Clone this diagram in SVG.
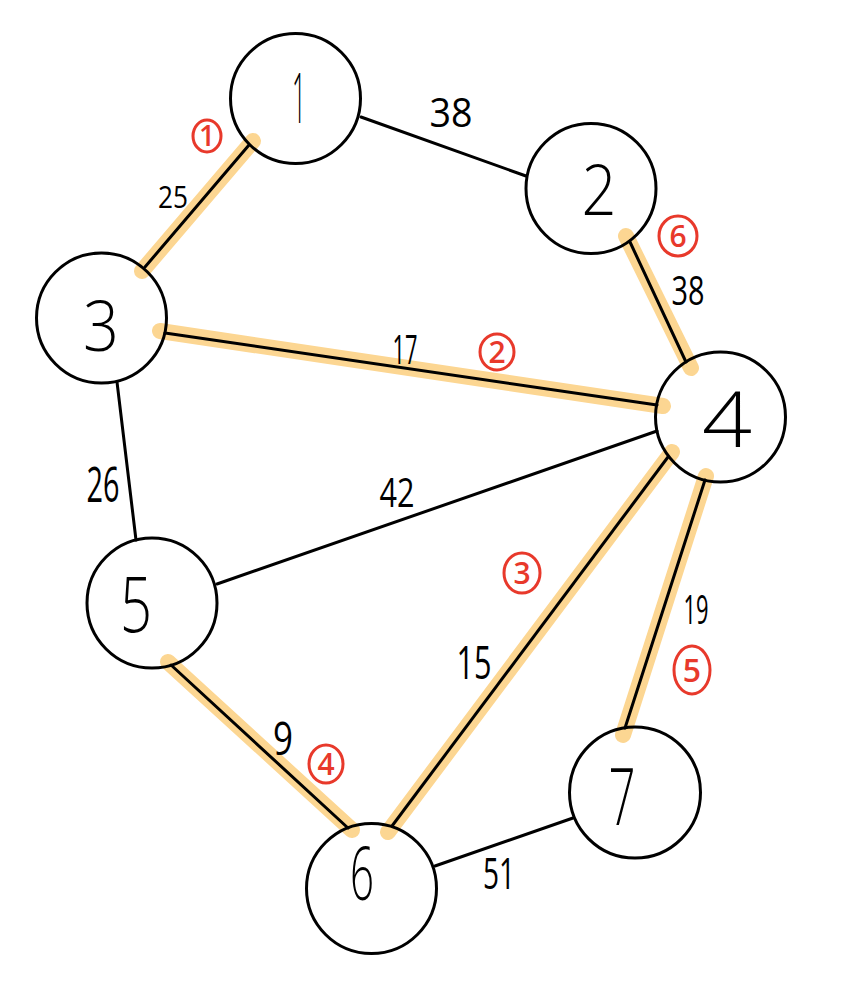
<svg xmlns="http://www.w3.org/2000/svg" width="842" height="982" viewBox="0 0 842 982">
<style>
.hl{stroke:#FCD692;stroke-width:16;stroke-linecap:round;fill:none}
.e{stroke:#000;stroke-width:3;fill:none;stroke-linecap:round}
.n{fill:none;stroke:#000;stroke-width:3}
.nt{font-family:"Open Sans","Liberation Sans",sans-serif;font-weight:350;font-size:70px;fill:#000;text-anchor:middle}
.w{font-family:"Open Sans","Liberation Sans",sans-serif;font-weight:400;font-size:40px;fill:#000;text-anchor:middle}
.rc{fill:none;stroke:#E8392B;stroke-width:3}
.rt{font-family:"Open Sans","Liberation Sans",sans-serif;font-weight:600;font-size:30px;fill:#E8392B;text-anchor:middle}
</style>
<rect width="842" height="982" fill="#fff"/>
<g id="connectors">
  <g id="highlights">
    <line class="hl" x1="253" y1="141" x2="142" y2="271"/>
    <line class="hl" x1="160" y1="331" x2="663" y2="406"/>
    <line class="hl" x1="626" y1="236" x2="691" y2="368"/>
    <line class="hl" x1="672" y1="452" x2="388" y2="832"/>
    <line class="hl" x1="706" y1="476" x2="623" y2="735"/>
    <line class="hl" x1="168" y1="662" x2="352" y2="830"/>
  </g>
  <line class="e" x1="361" y1="117" x2="526" y2="176"/>
  <line class="e" x1="249" y1="145" x2="145" y2="267"/>
  <line class="e" x1="165" y1="333" x2="657" y2="405"/>
  <line class="e" x1="630" y1="242" x2="686" y2="362"/>
  <line class="e" x1="117" y1="382" x2="136" y2="540"/>
  <line class="e" x1="217" y1="584" x2="657" y2="431"/>
  <line class="e" x1="668" y1="457" x2="392" y2="826"/>
  <line class="e" x1="705" y1="480" x2="625" y2="728"/>
  <line class="e" x1="171" y1="665" x2="348" y2="828"/>
  <line class="e" x1="435" y1="866" x2="573" y2="818"/>
  <g id="weights">
    <text class="w" x="451" y="127" textLength="43" lengthAdjust="spacingAndGlyphs">38</text>
    <text class="w" x="173" y="208" textLength="30" lengthAdjust="spacingAndGlyphs" style="font-size:31px">25</text>
    <text class="w" x="688" y="305" textLength="33" lengthAdjust="spacingAndGlyphs">38</text>
    <text class="w" x="405" y="364" textLength="25" lengthAdjust="spacingAndGlyphs">17</text>
    <text class="w" x="103" y="502" textLength="33" lengthAdjust="spacingAndGlyphs" style="font-size:50px">26</text>
    <text class="w" x="397" y="507" textLength="35" lengthAdjust="spacingAndGlyphs">42</text>
    <text class="w" x="474" y="679" textLength="35" lengthAdjust="spacingAndGlyphs" style="font-size:46px">15</text>
    <text class="w" x="696" y="624" textLength="25" lengthAdjust="spacingAndGlyphs">19</text>
    <text class="w" x="283" y="755" textLength="20" lengthAdjust="spacingAndGlyphs" style="font-size:46px">9</text>
    <text class="w" x="499" y="889" textLength="32" lengthAdjust="spacingAndGlyphs" style="font-size:44px">51</text>
  </g>
  <g id="order-marks">
    <ellipse class="rc" cx="207" cy="136" rx="14" ry="16"/>
    <text class="rt" x="207" y="146" style="font-size:28px">1</text>
    <ellipse class="rc" cx="678" cy="236" rx="19" ry="20"/>
    <text class="rt" x="678" y="247">6</text>
    <ellipse class="rc" cx="497" cy="352" rx="17" ry="18"/>
    <text class="rt" x="497" y="363">2</text>
    <ellipse class="rc" cx="522" cy="573" rx="18" ry="20"/>
    <text class="rt" x="522" y="584">3</text>
    <ellipse class="rc" cx="326" cy="764" rx="17" ry="19"/>
    <text class="rt" x="326" y="775">4</text>
    <ellipse class="rc" cx="692" cy="670" rx="18" ry="24"/>
    <text class="rt" x="692" y="682" style="font-size:32px">5</text>
  </g>
</g>
<g id="node1"><circle class="n" cx="295.5" cy="98.5" r="65"/><text class="nt" x="299" y="123" textLength="14" lengthAdjust="spacingAndGlyphs">1</text></g>
<g id="node2"><circle class="n" cx="591" cy="188.5" r="65"/><text class="nt" x="599" y="215" textLength="35" lengthAdjust="spacingAndGlyphs">2</text></g>
<g id="node3"><circle class="n" cx="101.5" cy="318" r="65"/><text class="nt" x="101" y="351" textLength="36" lengthAdjust="spacingAndGlyphs">3</text></g>
<g id="node4"><circle class="n" cx="720.5" cy="417" r="65"/><text class="nt" x="727" y="447" textLength="50" lengthAdjust="spacingAndGlyphs" style="font-size:78px">4</text></g>
<g id="node5"><circle class="n" cx="152" cy="603" r="65"/><text class="nt" x="136" y="632" textLength="32" lengthAdjust="spacingAndGlyphs" style="font-size:78px">5</text></g>
<g id="node6"><circle class="n" cx="371.5" cy="888.5" r="65"/><text class="nt" x="362" y="900" textLength="24" lengthAdjust="spacingAndGlyphs" style="font-size:74px">6</text></g>
<g id="node7"><circle class="n" cx="635" cy="792.5" r="65.5"/><text class="nt" x="622" y="825" textLength="27" lengthAdjust="spacingAndGlyphs" style="font-size:80px">7</text></g>
</svg>
